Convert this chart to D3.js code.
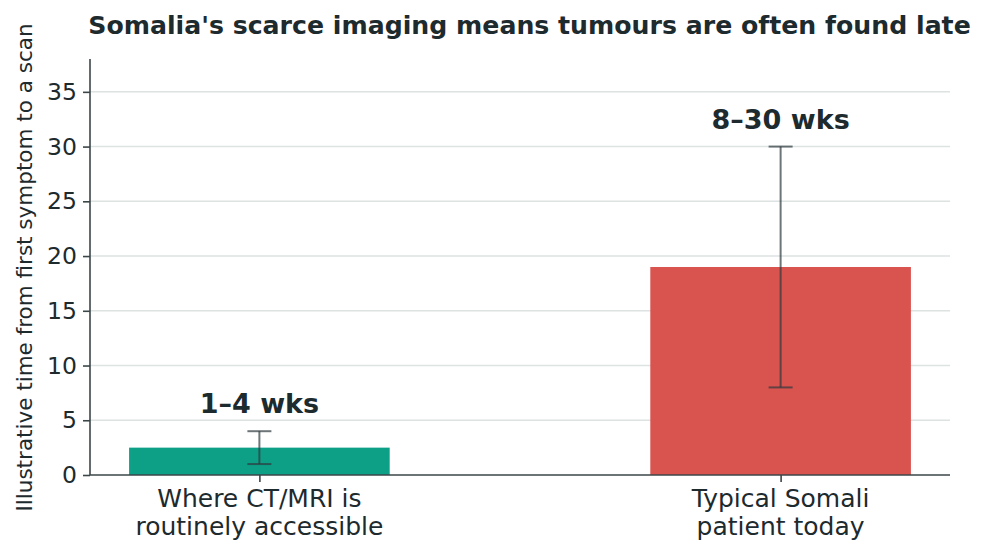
<!DOCTYPE html>
<html>
<head>
<meta charset="utf-8">
<script src="https://cdn.jsdelivr.net/npm/d3@7"></script>
<style>
body{margin:0;background:#fff}
svg{display:block}
text{font-family:"DejaVu Sans",sans-serif}
</style>
</head>
<body>
<svg width="983" height="556"></svg>
<script>
// data
const cats=[["Where CT/MRI is","routinely accessible"],["Typical Somali","patient today"]]
const mids=[2.5,19]
const lows=[1,8]
const highs=[4,30]
const labels=["1–4 wks","8–30 wks"]
const colors=["#0e9f87","#d9534f"]
const yticks=[0,5,10,15,20,25,30,35]

const svg=d3.select("svg")
const ink="#1d2a2e"
const axc="#3b4649"
const L=90,R=950,T=59,B=475

const x=d3.scaleLinear().domain([-0.325,1.325]).range([L,R])
const y=d3.scaleLinear().domain([0,38]).range([B,T])
const bw=x(0.5)-x(0)

// grid
svg.append("g").selectAll("line").data(yticks.slice(1)).join("line")
.attr("x1",L).attr("x2",R).attr("y1",d=>y(d)).attr("y2",d=>y(d))
.attr("stroke","#dde2e2").attr("stroke-width",1.5)

// bars
svg.append("g").selectAll("rect").data(mids).join("rect")
.attr("x",(d,i)=>x(i)-bw/2).attr("width",bw)
.attr("y",d=>y(d)).attr("height",d=>B-y(d))
.attr("fill",(d,i)=>colors[i])

// error bars
const eb=svg.append("g").attr("stroke","#2f3b3e").attr("stroke-opacity",0.7).attr("stroke-width",2)
lows.forEach((lo,i)=>{
let cx=x(i)
eb.append("line").attr("x1",cx).attr("x2",cx).attr("y1",y(lo)).attr("y2",y(highs[i]))
eb.append("line").attr("x1",cx-12).attr("x2",cx+12).attr("y1",y(lo)).attr("y2",y(lo))
eb.append("line").attr("x1",cx-12).attr("x2",cx+12).attr("y1",y(highs[i])).attr("y2",y(highs[i]))
})

// value labels
svg.append("g").selectAll("text").data(labels).join("text")
.attr("x",(d,i)=>x(i)).attr("y",(d,i)=>y(highs[i])-18)
.attr("text-anchor","middle").attr("font-size",27).attr("font-weight","bold")
.attr("fill",ink).text(d=>d)

// y axis
const ya=svg.append("g").attr("transform",`translate(${L},0)`)
.call(d3.axisLeft(y).tickValues(yticks).tickSize(7).tickPadding(6))
ya.select(".domain").attr("d",`M0,${T}V${B}`)
// x axis
const xa=svg.append("g").attr("transform",`translate(0,${B})`)
.call(d3.axisBottom(x).tickValues([0,1]).tickSize(7).tickFormat(""))
xa.select(".domain").attr("d",`M${L},0H${R}`)

svg.selectAll(".domain").attr("stroke",axc).attr("stroke-width",1.6)
svg.selectAll(".tick line").attr("stroke",axc).attr("stroke-width",1.6)
ya.selectAll("text").attr("font-size",23.5).attr("fill",ink).attr("font-family","DejaVu Sans")

// category labels
cats.forEach((c,i)=>{
let t=svg.append("text").attr("text-anchor","middle").attr("font-size",25).attr("fill",ink)
c.forEach((s,j)=>{
t.append("tspan").attr("x",x(i)).attr("y",507+j*28).text(s)
})
})

// y label
svg.append("text").attr("transform","translate(32,267.5) rotate(-90)")
.attr("text-anchor","middle").attr("font-size",21.5).attr("fill",ink)
.text("Illustrative time from first symptom to a scan")

// title
svg.append("text").attr("x",529.5).attr("y",34).attr("text-anchor","middle")
.attr("font-size",25.2).attr("font-weight","bold").attr("fill",ink)
.text("Somalia's scarce imaging means tumours are often found late")
</script>
</body>
</html>
